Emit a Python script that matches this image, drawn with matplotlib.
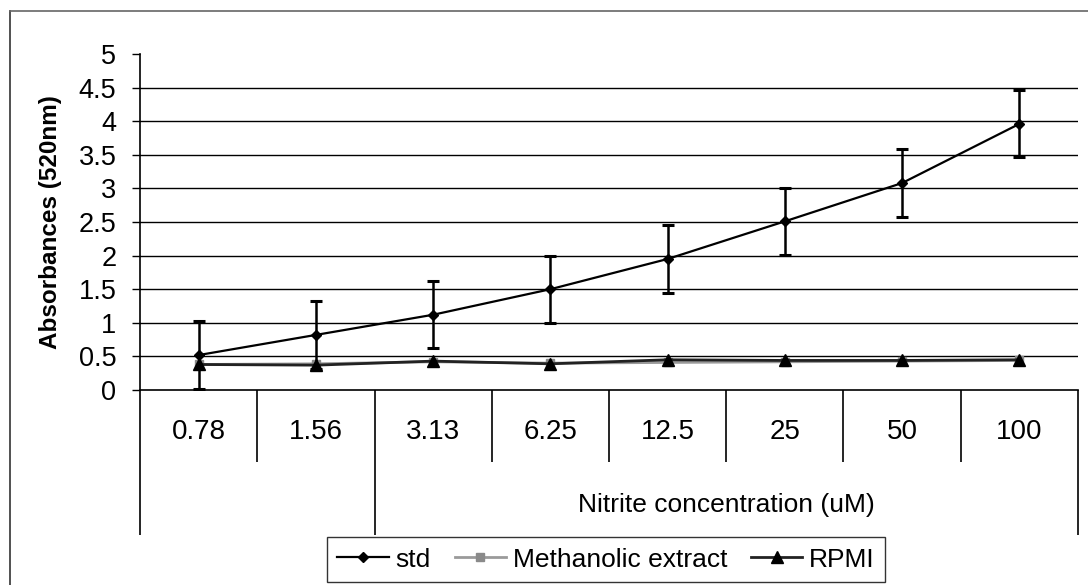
import matplotlib
matplotlib.use("Agg")
import matplotlib.pyplot as plt
from matplotlib.lines import Line2D

plt.rcParams['font.family'] = ['Liberation Sans', 'DejaVu Sans']

categories = ['0.78', '1.56', '3.13', '6.25', '12.5', '25', '50', '100']
std_vals = [0.52, 0.82, 1.12, 1.50, 1.95, 2.51, 3.08, 3.96]
std_err = [0.5, 0.5, 0.5, 0.5, 0.5, 0.5, 0.5, 0.5]
methanolic = [0.38, 0.39, 0.42, 0.40, 0.41, 0.42, 0.43, 0.44]
rpmi = [0.38, 0.37, 0.43, 0.39, 0.45, 0.44, 0.44, 0.45]

fig = plt.figure(figsize=(10.88, 5.85), dpi=100)
ax = fig.add_axes([0.1287, 0.3333, 0.8621, 0.5744])

x = list(range(len(categories)))

# gridlines (no line at 5)
for yv in [0.5, 1, 1.5, 2, 2.5, 3, 3.5, 4, 4.5]:
    ax.axhline(yv, color='black', lw=1.0, zorder=1)

ax.plot(x, methanolic, color='#9a9a9a', lw=2.0, marker='s', ms=6,
        mfc='#8a8a8a', mec='#8a8a8a', zorder=3)
ax.plot(x, rpmi, color='#222222', lw=2.0, marker='^', ms=8,
        mfc='black', mec='black', zorder=4)
ax.errorbar(x, std_vals, yerr=std_err, color='black', lw=1.6, marker='D', ms=5,
            ecolor='black', elinewidth=1.8, capsize=4, capthick=2.2, zorder=5)

ax.set_xlim(-0.5, len(categories) - 0.5)
ax.set_ylim(0, 5)
ax.set_yticks([0, 0.5, 1, 1.5, 2, 2.5, 3, 3.5, 4, 4.5, 5])
ax.set_yticklabels(['0', '0.5', '1', '1.5', '2', '2.5', '3', '3.5', '4', '4.5', '5'])
ax.tick_params(axis='y', direction='out', length=6, width=1, pad=11, labelsize=19.5)
ax.set_xticks(x)
ax.set_xticklabels(categories)
ax.tick_params(axis='x', length=0, pad=21, labelsize=20)

for s in ['top', 'right']:
    ax.spines[s].set_visible(False)
ax.spines['left'].set_linewidth(1.2)
ax.spines['bottom'].set_linewidth(1.2)

ax.set_ylabel('Absorbances (520nm)', fontsize=17.5, fontweight='bold', labelpad=12)

# category table lines below the axis
trans = ax.get_xaxis_transform()
short_lines = [0.5, 2.5, 3.5, 4.5, 5.5, 6.5]
long_lines = [-0.5, 1.5, 7.5]
ax.vlines(short_lines, -0.214, 0, colors='black', lw=1.2, transform=trans, clip_on=False)
ax.vlines(long_lines, -0.432, 0, colors='black', lw=1.2, transform=trans, clip_on=False)

ax.text(4.5, -0.342, 'Nitrite concentration (uM)', transform=trans,
        ha='center', va='center', fontsize=19)

handles = [
    Line2D([], [], color='black', lw=1.6, marker='D', ms=5),
    Line2D([], [], color='#9a9a9a', lw=2.0, marker='s', ms=6, mfc='#8a8a8a', mec='#8a8a8a'),
    Line2D([], [], color='#222222', lw=2.0, marker='^', ms=8, mfc='black', mec='black'),
]
labels = ['std', 'Methanolic extract', 'RPMI']
leg = fig.legend(handles, labels,
                 loc='center', bbox_to_anchor=(0.557, 0.0435), ncol=3, fontsize=19,
                 frameon=True, fancybox=False, edgecolor='black', handlelength=1.95,
                 handletextpad=0.25, columnspacing=0.9, borderpad=0.4, borderaxespad=0)
leg.get_frame().set_linewidth(1.0)

# outer chart frame (right and bottom edges fall outside the picture)
fig.add_artist(Line2D([9.5 / 1088, 9.5 / 1088], [1 - 11 / 585, 0], color='#333333', lw=1.2,
                      transform=fig.transFigure))
fig.add_artist(Line2D([9.5 / 1088, 1], [1 - 11 / 585, 1 - 11 / 585], color='#666666', lw=1.2,
                      transform=fig.transFigure))

fig.savefig('out.png', dpi=100)
